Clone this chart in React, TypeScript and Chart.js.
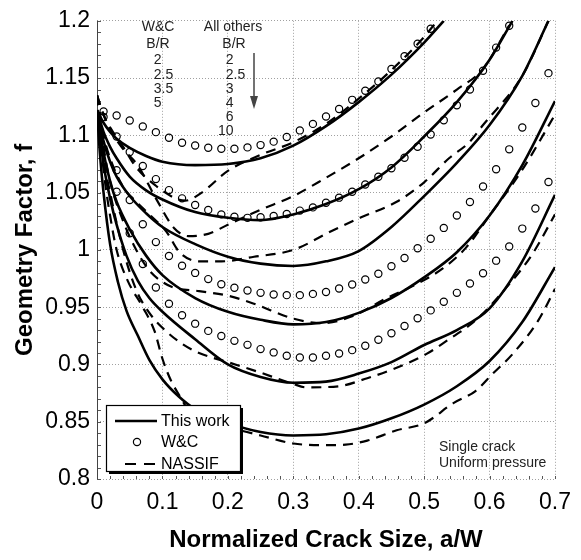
import React, { useEffect, useRef } from 'react';
import { Chart, registerables } from 'chart.js';

Chart.register(...registerables);

const FONT = '"Liberation Sans", Arial, Helvetica, sans-serif';

// Axis ticks
const xTicks = [0, 0.1, 0.2, 0.3, 0.4, 0.5, 0.6, 0.7];
const xTickLabels = ['0', '0.1', '0.2', '0.3', '0.4', '0.5', '0.6', '0.7'];
const yTicks = [0.8, 0.85, 0.9, 0.95, 1.0, 1.05, 1.1, 1.15, 1.2];
const yTickLabels = ['0.8', '0.85', '0.9', '0.95', '1', '1.05', '1.1', '1.15', '1.2'];

// This work (solid curves), B/R = 2, 2.5, 3, 4, 6, 10
const workA_2 = [0, 0.01, 0.02, 0.03, 0.05, 0.075, 0.1, 0.15, 0.2, 0.25, 0.3, 0.35, 0.4, 0.45, 0.5, 0.53];
const workF_2 = [1.122, 1.111, 1.103, 1.097, 1.089, 1.082, 1.077, 1.074, 1.075, 1.08, 1.091, 1.108, 1.129, 1.153, 1.181, 1.2];
const workA_25 = [0, 0.01, 0.02, 0.03, 0.05, 0.075, 0.1, 0.15, 0.2, 0.25, 0.3, 0.35, 0.4, 0.45, 0.5, 0.55, 0.6, 0.635];
const workF_25 = [1.122, 1.103, 1.09, 1.08, 1.064, 1.052, 1.044, 1.033, 1.028, 1.026, 1.031, 1.04, 1.053, 1.072, 1.099, 1.129, 1.166, 1.2];
const workA_3 = [0, 0.01, 0.02, 0.03, 0.05, 0.075, 0.1, 0.15, 0.2, 0.25, 0.3, 0.35, 0.4, 0.45, 0.5, 0.55, 0.6, 0.65, 0.69];
const workF_3 = [1.122, 1.095, 1.077, 1.064, 1.047, 1.032, 1.02, 1.005, 0.994, 0.988, 0.986, 0.99, 0.999, 1.02, 1.047, 1.076, 1.109, 1.152, 1.2];
const workA_4 = [0, 0.01, 0.02, 0.03, 0.05, 0.075, 0.1, 0.15, 0.2, 0.25, 0.3, 0.35, 0.4, 0.45, 0.5, 0.55, 0.6, 0.65, 0.7];
const workF_4 = [1.122, 1.085, 1.06, 1.042, 1.018, 0.995, 0.978, 0.958, 0.946, 0.939, 0.935, 0.937, 0.945, 0.958, 0.976, 0.998, 1.03, 1.074, 1.13];
const workA_6 = [0, 0.01, 0.02, 0.03, 0.045, 0.0625, 0.08, 0.1, 0.15, 0.2, 0.25, 0.3, 0.35, 0.4, 0.45, 0.5, 0.55, 0.6, 0.65, 0.7];
const workF_6 = [1.122, 1.075, 1.045, 1.022, 0.995, 0.973, 0.958, 0.946, 0.922, 0.9, 0.889, 0.884, 0.885, 0.892, 0.902, 0.917, 0.93, 0.949, 0.99, 1.048];
const workA_10 = [0, 0.005, 0.01, 0.02, 0.032, 0.045, 0.0625, 0.08, 0.1, 0.125, 0.15, 0.2, 0.25, 0.3, 0.35, 0.4, 0.45, 0.5, 0.55, 0.6, 0.65, 0.7];
const workF_10 = [1.122, 1.08, 1.05, 1.005, 0.972, 0.947, 0.925, 0.904, 0.887, 0.872, 0.861, 0.849, 0.841, 0.838, 0.839, 0.844, 0.853, 0.865, 0.881, 0.903, 0.937, 0.985];

// W&C (circles), B/R = 2, 2.5, 3.5, 5
const wcA_2 = [0.01, 0.03, 0.05, 0.07, 0.09, 0.11, 0.13, 0.15, 0.17, 0.19, 0.21, 0.23, 0.25, 0.27, 0.29, 0.31, 0.33, 0.35, 0.37, 0.39, 0.41, 0.43, 0.45, 0.47, 0.49, 0.51];
const wcF_2 = [1.1208, 1.1173, 1.113, 1.1078, 1.1028, 1.0979, 1.0935, 1.0912, 1.0892, 1.0883, 1.0883, 1.0895, 1.0915, 1.0945, 1.0985, 1.1043, 1.11, 1.1164, 1.123, 1.131, 1.139, 1.147, 1.158, 1.169, 1.18, 1.193];
const wcA_25 = [0.01, 0.03, 0.05, 0.07, 0.09, 0.11, 0.13, 0.15, 0.17, 0.19, 0.21, 0.23, 0.25, 0.27, 0.29, 0.31, 0.33, 0.35, 0.37, 0.39, 0.41, 0.43, 0.45, 0.47, 0.49, 0.51, 0.53, 0.55, 0.57, 0.59, 0.61, 0.63];
const wcF_25 = [1.116, 1.099, 1.0855, 1.0733, 1.0618, 1.0522, 1.045, 1.0392, 1.0349, 1.031, 1.029, 1.028, 1.0285, 1.0297, 1.0314, 1.0343, 1.0371, 1.0412, 1.0456, 1.0508, 1.0571, 1.0638, 1.0713, 1.0805, 1.09, 1.1008, 1.1132, 1.1262, 1.14, 1.1564, 1.1766, 1.1957];
const wcA_35 = [0.03, 0.05, 0.07, 0.09, 0.11, 0.13, 0.15, 0.17, 0.19, 0.21, 0.23, 0.25, 0.27, 0.29, 0.31, 0.33, 0.35, 0.37, 0.39, 0.41, 0.43, 0.45, 0.47, 0.49, 0.51, 0.53, 0.55, 0.57, 0.59, 0.61, 0.63, 0.65, 0.67, 0.69];
const wcF_35 = [1.0696, 1.0436, 1.0224, 1.0068, 0.9947, 0.9862, 0.9799, 0.9745, 0.97, 0.9669, 0.9646, 0.9625, 0.9611, 0.9605, 0.9605, 0.9616, 0.9633, 0.9663, 0.9698, 0.9742, 0.9792, 0.9857, 0.9929, 1.0015, 1.0097, 1.0192, 1.03, 1.0418, 1.0554, 1.0704, 1.0878, 1.1069, 1.1283, 1.1543];
const wcA_5 = [0.03, 0.05, 0.07, 0.09, 0.11, 0.13, 0.15, 0.17, 0.19, 0.21, 0.23, 0.25, 0.27, 0.29, 0.31, 0.33, 0.35, 0.37, 0.39, 0.41, 0.43, 0.45, 0.47, 0.49, 0.51, 0.53, 0.55, 0.57, 0.59, 0.61, 0.63, 0.65, 0.67, 0.69];
const wcF_5 = [1.0508, 1.0146, 0.9877, 0.9672, 0.953, 0.9429, 0.9356, 0.9293, 0.9249, 0.9206, 0.9171, 0.9134, 0.9105, 0.9076, 0.9061, 0.9061, 0.9076, 0.9096, 0.9125, 0.9163, 0.9215, 0.9273, 0.9336, 0.9403, 0.9472, 0.9547, 0.9625, 0.9707, 0.9796, 0.9906, 1.003, 1.0186, 1.0362, 1.0593];

// NASSIF (dashed curves), B/R = 2, 2.5, 3, 4, 6, 10
const nasA_2 = [0, 0.01, 0.02, 0.04, 0.06, 0.09, 0.12, 0.135, 0.16, 0.2, 0.25, 0.3, 0.35, 0.4, 0.45, 0.5, 0.52];
const nasF_2 = [1.135, 1.118, 1.107, 1.09, 1.072, 1.056, 1.045, 1.043, 1.05, 1.069, 1.083, 1.094, 1.11, 1.132, 1.157, 1.186, 1.2];
const nasA_25 = [0, 0.01, 0.02, 0.04, 0.062, 0.09, 0.118, 0.14, 0.17, 0.2, 0.25, 0.3, 0.35, 0.4, 0.45, 0.5, 0.55, 0.59, 0.63];
const nasF_25 = [1.135, 1.118, 1.105, 1.088, 1.074, 1.045, 1.019, 1.012, 1.014, 1.022, 1.035, 1.047, 1.063, 1.08, 1.099, 1.12, 1.14, 1.158, 1.196];
const nasA_3 = [0, 0.01, 0.02, 0.04, 0.06, 0.08, 0.106, 0.126, 0.156, 0.19, 0.24, 0.3, 0.357, 0.402, 0.458, 0.5, 0.538, 0.569, 0.59, 0.65, 0.69];
const nasF_3 = [1.135, 1.1, 1.08, 1.055, 1.042, 1.031, 1.016, 0.998, 0.99, 0.99, 0.994, 1.0, 1.016, 1.028, 1.042, 1.059, 1.08, 1.094, 1.109, 1.152, 1.2];
const nasA_4 = [0, 0.01, 0.02, 0.04, 0.06, 0.08, 0.1, 0.118, 0.156, 0.2, 0.24, 0.3, 0.345, 0.39, 0.443, 0.488, 0.529, 0.564, 0.6, 0.65, 0.7];
const nasF_4 = [1.135, 1.09, 1.06, 1.025, 1.0, 0.982, 0.972, 0.967, 0.964, 0.96, 0.953, 0.94, 0.936, 0.942, 0.958, 0.97, 0.984, 1.002, 1.03, 1.07, 1.118];
const nasA_6 = [0, 0.01, 0.02, 0.04, 0.06, 0.08, 0.1, 0.13, 0.156, 0.2, 0.244, 0.3, 0.32, 0.37, 0.413, 0.453, 0.503, 0.538, 0.569, 0.589, 0.624, 0.665, 0.7];
const nasF_6 = [1.135, 1.08, 1.05, 1.0, 0.965, 0.945, 0.932, 0.918, 0.91, 0.902, 0.894, 0.883, 0.88, 0.881, 0.888, 0.896, 0.909, 0.922, 0.934, 0.944, 0.966, 0.996, 1.031];
const nasA_10 = [0, 0.01, 0.02, 0.03, 0.047, 0.07, 0.088, 0.1, 0.113, 0.128, 0.14, 0.17, 0.21, 0.25, 0.3, 0.345, 0.38, 0.413, 0.458, 0.5, 0.544, 0.579, 0.605, 0.635, 0.674, 0.7];
const nasF_10 = [1.135, 1.07, 1.03, 1.0, 0.973, 0.95, 0.929, 0.905, 0.886, 0.871, 0.86, 0.852, 0.844, 0.838, 0.831, 0.8295, 0.83, 0.8335, 0.8425, 0.8486, 0.866, 0.877, 0.892, 0.909, 0.938, 0.966];

// Legend entries and annotation text
const legendLabels = ['This work', 'W&C', 'NASSIF'];
const wcRatioLabels = ['2', '2.5', '3.5', '5'];
const otherRatioLabels = ['2', '2.5', '3', '4', '6', '10'];

const pts = (a: number[], f: number[]) => a.map((x, i) => ({ x, y: f[i] }));

const solid = (a: number[], f: number[]) => ({
  data: pts(a, f),
  borderColor: '#000',
  borderWidth: 2.6,
  pointRadius: 0,
  cubicInterpolationMode: 'monotone' as const,
  fill: false,
});
const dashed = (a: number[], f: number[]) => ({
  data: pts(a, f),
  borderColor: '#000',
  borderWidth: 2.2,
  borderDash: [10, 7],
  pointRadius: 0,
  cubicInterpolationMode: 'monotone' as const,
  fill: false,
});
const circles = (a: number[], f: number[]) => ({
  data: pts(a, f),
  showLine: false,
  pointStyle: 'circle',
  pointRadius: 3.6,
  pointBorderWidth: 1.2,
  pointBorderColor: '#000',
  pointBackgroundColor: 'rgba(0,0,0,0)',
  borderColor: '#000',
});

// Small ticks along the left and bottom axes
const framePlugin = {
  id: 'frame',
  beforeDatasetsDraw(chart: any) {
    const { ctx, chartArea: ca, scales } = chart;
    ctx.save();
    ctx.strokeStyle = '#555';
    ctx.lineWidth = 1;
    ctx.beginPath();
    for (let i = 0; i <= 40; i++) {
      const y = Math.round(scales.y.getPixelForValue(0.8 + i * 0.01)) + 0.5;
      ctx.moveTo(ca.left, y);
      ctx.lineTo(ca.left + 4, y);
    }
    for (let i = 0; i <= 35; i++) {
      const x = Math.round(scales.x.getPixelForValue(i * 0.02)) + 0.5;
      ctx.moveTo(x, ca.bottom);
      ctx.lineTo(x, ca.bottom - 3);
    }
    ctx.stroke();
    ctx.strokeStyle = '#444';
    ctx.beginPath();
    ctx.moveTo(ca.left + 0.5, ca.top);
    ctx.lineTo(ca.left + 0.5, ca.bottom);
    ctx.stroke();
    ctx.restore();
  },
};

// Legend box, B/R columns, arrow and load-case note
const notesPlugin = {
  id: 'notes',
  afterDatasetsDraw(chart: any) {
    const { ctx } = chart;
    ctx.save();

    // legend box with drop shadow
    const bx = 106, by = 405, bw = 134, bh = 66;
    ctx.fillStyle = '#000';
    ctx.fillRect(bx + 3, by + 3, bw, bh);
    ctx.fillStyle = '#fff';
    ctx.fillRect(bx, by, bw, bh);
    ctx.strokeStyle = '#000';
    ctx.lineWidth = 1.2;
    ctx.strokeRect(bx + 0.5, by + 0.5, bw, bh);

    ctx.font = `16px ${FONT}`;
    ctx.fillStyle = '#000';
    ctx.textBaseline = 'middle';
    ctx.textAlign = 'left';
    const rows = [421, 442, 464];
    ctx.lineWidth = 2.4;
    ctx.beginPath();
    ctx.moveTo(115, rows[0]);
    ctx.lineTo(157, rows[0]);
    ctx.stroke();
    ctx.lineWidth = 1.2;
    ctx.beginPath();
    ctx.arc(137, rows[1], 3.6, 0, Math.PI * 2);
    ctx.stroke();
    ctx.lineWidth = 2.2;
    ctx.beginPath();
    ctx.moveTo(125, rows[2]);
    ctx.lineTo(136, rows[2]);
    ctx.moveTo(144, rows[2]);
    ctx.lineTo(155, rows[2]);
    ctx.stroke();
    legendLabels.forEach((t, i) => ctx.fillText(t, 161, rows[i] + 0.5));

    // B/R columns
    ctx.font = `14px ${FONT}`;
    ctx.fillStyle = '#222';
    ctx.textAlign = 'center';
    ctx.fillText('W&C', 158, 27);
    ctx.fillText('B/R', 158, 44);
    ctx.fillText('All others', 233, 27);
    ctx.fillText('B/R', 234, 44);
    const rowY = [60, 75, 89.5, 103.5, 117.5, 131.5];
    const decimalAligned = (labels: string[], xDot: number) => {
      labels.forEach((t, i) => {
        const [ip, fp] = t.split('.');
        ctx.textAlign = 'right';
        ctx.fillText(ip, xDot, rowY[i]);
        if (fp !== undefined) {
          ctx.textAlign = 'left';
          ctx.fillText('.' + fp, xDot, rowY[i]);
        }
      });
    };
    decimalAligned(wcRatioLabels, 161.5);
    decimalAligned(otherRatioLabels, 233.5);

    // arrow showing increasing B/R
    ctx.strokeStyle = '#444';
    ctx.fillStyle = '#444';
    ctx.lineWidth = 1.5;
    ctx.beginPath();
    ctx.moveTo(254, 53);
    ctx.lineTo(254, 100);
    ctx.stroke();
    ctx.beginPath();
    ctx.moveTo(254, 109);
    ctx.lineTo(250, 96);
    ctx.lineTo(258, 96);
    ctx.closePath();
    ctx.fill();

    // load case
    ctx.fillStyle = '#222';
    ctx.textAlign = 'left';
    ctx.font = `14px ${FONT}`;
    ctx.fillText('Single crack', 439, 447);
    ctx.fillText('Uniform pressure', 439, 463);
    ctx.restore();
  },
};

export default function App() {
  const ref = useRef<HTMLCanvasElement | null>(null);

  useEffect(() => {
    if (!ref.current) return;
    const gridStyle = { color: '#a0a0a0', lineWidth: 1, drawTicks: false };
    const borderStyle = { display: false, dash: [1, 2] };
    const chart = new Chart(ref.current, {
      type: 'line',
      data: {
        datasets: [
          circles(wcA_2, wcF_2),
          circles(wcA_25, wcF_25),
          circles(wcA_35, wcF_35),
          circles(wcA_5, wcF_5),
          solid(workA_2, workF_2),
          solid(workA_25, workF_25),
          solid(workA_3, workF_3),
          solid(workA_4, workF_4),
          solid(workA_6, workF_6),
          solid(workA_10, workF_10),
          dashed(nasA_2, nasF_2),
          dashed(nasA_25, nasF_25),
          dashed(nasA_3, nasF_3),
          dashed(nasA_4, nasF_4),
          dashed(nasA_6, nasF_6),
          dashed(nasA_10, nasF_10),
        ] as any,
      },
      options: {
        animation: false,
        responsive: false,
        devicePixelRatio: 1,
        layout: { padding: { top: 18, right: 21, left: 0, bottom: 0 } },
        plugins: { legend: { display: false }, tooltip: { enabled: false } },
        scales: {
          x: {
            type: 'linear',
            min: 0,
            max: 0.7,
            afterBuildTicks: (s: any) => {
              s.ticks = xTicks.map((v) => ({ value: v }));
            },
            afterFit: (s: any) => {
              s.height = 81;
            },
            grid: gridStyle,
            border: borderStyle,
            ticks: {
              color: '#000',
              padding: 10,
              maxRotation: 0,
              font: { family: FONT, size: 23 },
              callback: (v: any) => xTickLabels[xTicks.findIndex((t) => Math.abs(t - v) < 1e-6)],
            },
            title: {
              display: true,
              text: 'Normalized Crack Size, a/W',
              color: '#000',
              font: { family: FONT, size: 24, weight: 'bold' },
              padding: { top: 0, bottom: 5 },
            },
          },
          y: {
            type: 'linear',
            min: 0.8,
            max: 1.2,
            afterBuildTicks: (s: any) => {
              s.ticks = yTicks.map((v) => ({ value: v }));
            },
            afterFit: (s: any) => {
              s.width = 97;
            },
            grid: gridStyle,
            border: borderStyle,
            ticks: {
              color: '#000',
              padding: 7,
              font: { family: FONT, size: 23 },
              callback: (v: any) => yTickLabels[yTicks.findIndex((t) => Math.abs(t - v) < 1e-6)],
            },
            title: {
              display: true,
              text: 'Geometry Factor, f',
              color: '#000',
              font: { family: FONT, size: 24, weight: 'bold' },
              padding: { top: 11, bottom: 0 },
            },
          },
        },
      },
      plugins: [framePlugin, notesPlugin],
    });
    return () => chart.destroy();
  }, []);

  return (
    <div style={{ position: 'absolute', left: 0, top: 0, width: 581, height: 560, background: '#fff' }}>
      <canvas ref={ref} width={581} height={560} style={{ display: 'block' }} />
    </div>
  );
}
